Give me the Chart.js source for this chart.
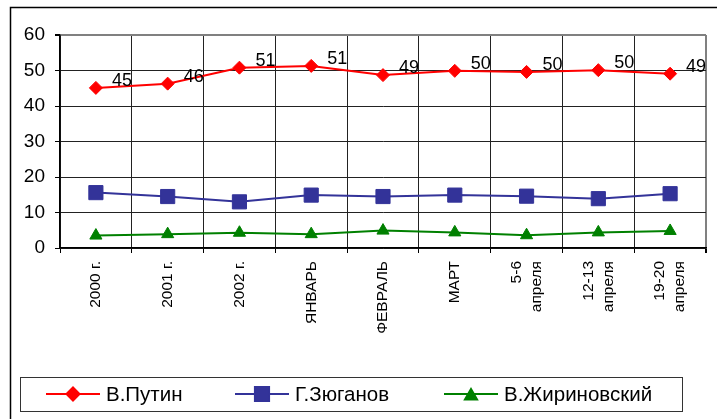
<!DOCTYPE html>
<html>
<head>
<meta charset="utf-8">
<script src="https://cdn.jsdelivr.net/npm/chart.js@4.4.0/dist/chart.umd.min.js"></script>
<style>
  html, body { margin: 0; padding: 0; background: #fff; }
  canvas { display: block; }
</style>
</head>
<body>
<canvas id="myChart" width="717" height="419"></canvas>
<script>
// Data
var categories = ['2000 г.', '2001 г.', '2002 г.', 'ЯНВАРЬ', 'ФЕВРАЛЬ', 'МАРТ',
    ['5-6', 'апреля'], ['12-13', 'апреля'], ['19-20', 'апреля']];

var putin       = [45.1, 46.3, 50.8, 51.3, 48.7, 49.9, 49.6, 50.1, 49.1];
var zyuganov    = [15.6, 14.5, 13.0, 14.9, 14.5, 14.9, 14.6, 13.9, 15.3];
var zhirinovsky = [3.5, 3.9, 4.3, 3.9, 4.9, 4.4, 3.6, 4.4, 4.8];

var seriesNames = ['В.Путин', 'Г.Зюганов', 'В.Жириновский'];
var yTicks = [0, 10, 20, 30, 40, 50, 60];

var FONT = "'Liberation Sans', Arial, sans-serif";

// white background + outer frame
var framePlugin = {
    id: 'frame',
    beforeDraw: function(chart){
        var ctx = chart.ctx;
        ctx.save();
        ctx.fillStyle = '#fff';
        ctx.fillRect(0, 0, chart.width, chart.height);
        ctx.strokeStyle = '#000';
        ctx.lineWidth = 1.5;
        ctx.strokeRect(10.5, 7.5, chart.width + 20, chart.height + 20);
        ctx.restore();
    }
};

// value labels next to Putin points
var valueLabels = {
    id: 'valueLabels',
    afterDatasetsDraw: function(chart){
        var ctx = chart.ctx;
        var meta = chart.getDatasetMeta(0);
        ctx.save();
        ctx.font = '18px ' + FONT;
        ctx.fillStyle = '#000';
        ctx.textAlign = 'left';
        ctx.textBaseline = 'middle';
        meta.data.forEach(function(pt, i){
            ctx.fillText(String(Math.round(putin[i])), pt.x + 16, pt.y - 7);
        });
        ctx.restore();
    }
};

// rotated category labels, lines centred on the tick
var xLabels = {
    id: 'xLabels',
    afterDraw: function(chart){
        var ctx = chart.ctx;
        var scale = chart.scales.x;
        var lineH = 20;
        ctx.save();
        ctx.font = '15.5px ' + FONT;
        ctx.fillStyle = '#000';
        ctx.textAlign = 'right';
        ctx.textBaseline = 'middle';
        categories.forEach(function(lab, i){
            var lines = Array.isArray(lab) ? lab : [lab];
            var cx = scale.getPixelForTick(i);
            lines.forEach(function(t, j){
                var x = cx + (j - (lines.length - 1) / 2) * lineH;
                ctx.save();
                ctx.translate(x, scale.top + 13);
                ctx.rotate(-Math.PI / 2);
                ctx.fillText(t, 0, 0);
                ctx.restore();
            });
        });
        ctx.restore();
    }
};

// boxed legend with line + marker samples
var legendBox = {
    id: 'legendBox',
    afterDraw: function(chart){
        var ctx = chart.ctx;
        var starts = [46, 235, 444];
        var cy = 394;
        ctx.save();
        ctx.strokeStyle = '#333';
        ctx.lineWidth = 1;
        ctx.strokeRect(20.5, 377.5, 662, 34);
        ctx.font = '20.5px ' + FONT;
        ctx.textAlign = 'left';
        ctx.textBaseline = 'middle';
        chart.data.datasets.forEach(function(ds, i){
            var x = starts[i];
            ctx.strokeStyle = ds.borderColor;
            ctx.lineWidth = 2;
            ctx.beginPath();
            ctx.moveTo(x, cy);
            ctx.lineTo(x + 54, cy);
            ctx.stroke();
            ctx.fillStyle = ds.pointBackgroundColor;
            ctx.strokeStyle = ds.pointBorderColor;
            Chart.helpers.drawPoint(ctx, {
                pointStyle: ds.pointStyle,
                radius: ds.pointRadius,
                rotation: 0,
                borderWidth: 1
            }, x + 27, cy + (ds.pointStyle === 'triangle' ? 2 : 0));
            ctx.fillStyle = '#000';
            ctx.fillText(ds.label, x + 60, cy + 1);
        });
        ctx.restore();
    }
};

function makeSet(label, data, color, style, radius){
    return {
        label: label,
        data: data,
        borderColor: color,
        backgroundColor: color,
        borderWidth: 2,
        pointStyle: style,
        pointRadius: radius,
        pointHoverRadius: radius,
        pointBackgroundColor: color,
        pointBorderColor: color,
        pointBorderWidth: 1,
        tension: 0,
        fill: false
    };
}

var chart = new Chart(document.getElementById('myChart'), {
    type: 'line',
    data: {
        labels: categories,
        datasets: [
            makeSet(seriesNames[0], putin, '#ff0000', 'rectRot', 6.5),
            makeSet(seriesNames[1], zyuganov, '#333399', 'rect', 10),
            makeSet(seriesNames[2], zhirinovsky, '#008000', 'triangle', 7)
        ]
    },
    options: {
        responsive: false,
        animation: false,
        layout: { padding: { left: 0, top: 35, right: 4, bottom: 0 } },
        plugins: {
            legend: { display: false },
            tooltip: { enabled: false }
        },
        scales: {
            x: {
                offset: true,
                grid: {
                    offset: true,
                    color: function(c){ return c.tick ? '#222' : '#808080'; },
                    lineWidth: function(c){ return c.tick ? 1 : 2; },
                    tickColor: '#000',
                    tickLength: 5
                },
                border: { color: '#000', width: 1.5 },
                ticks: { display: false },
                afterFit: function(s){ s.height = 171; }
            },
            y: {
                min: yTicks[0],
                max: yTicks[yTicks.length - 1],
                ticks: {
                    stepSize: yTicks[1] - yTicks[0],
                    color: '#000',
                    font: { family: FONT, size: 19 },
                    padding: 10
                },
                grid: {
                    color: function(c){ return c.tick && c.tick.value === yTicks[yTicks.length - 1] ? '#808080' : '#222'; },
                    lineWidth: function(c){ return c.tick && c.tick.value === yTicks[yTicks.length - 1] ? 2 : 1; },
                    tickColor: '#000',
                    tickLength: 5
                },
                border: { color: '#000', width: 1.5 },
                afterFit: function(s){ s.width = 60; }
            }
        }
    },
    plugins: [framePlugin, valueLabels, xLabels, legendBox]
});
</script>
</body>
</html>
